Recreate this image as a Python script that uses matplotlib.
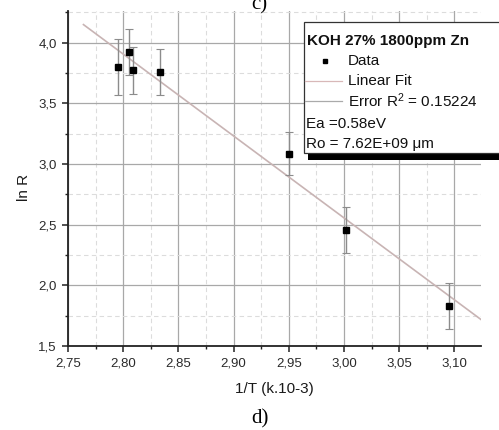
import matplotlib
matplotlib.use("Agg")
import matplotlib.pyplot as plt
import numpy as np
from matplotlib.ticker import MultipleLocator, FuncFormatter
from matplotlib.patches import Rectangle
from matplotlib.lines import Line2D

# Data
inv_T = [2.795, 2.805, 2.809, 2.833, 2.950, 3.002, 3.095]
ln_R = [3.80, 3.92, 3.77, 3.76, 3.085, 2.455, 1.827]
ln_R_err = [0.23, 0.19, 0.19, 0.19, 0.18, 0.19, 0.19]

fit_slope = -6.75
fit_intercept = 22.805
fit_x_range = [2.764, 3.124]

legend_title = "KOH 27% 1800ppm Zn"
legend_labels = ["Data", "Linear Fit", "Error R$^2$ = 0.15224"]
info_lines = ["Ea =0.58eV", "Ro = 7.62E+09 \u03bcm"]

plt.rcParams['font.family'] = ['Liberation Sans', 'DejaVu Sans']
plt.rcParams['mathtext.fontset'] = 'custom'
plt.rcParams['mathtext.rm'] = 'Liberation Sans'
plt.rcParams['mathtext.it'] = 'Liberation Sans'
plt.rcParams['mathtext.default'] = 'regular'

W, H = 499, 430
fig = plt.figure(figsize=(W / 100, H / 100), dpi=100)
ax = fig.add_axes([68 / W, 1 - 346 / H, (481 - 68) / W, (346 - 11) / H])

ax.set_xlim(2.75, 3.124)
ax.set_ylim(1.5, 4.26)

ax.xaxis.set_major_locator(MultipleLocator(0.05))
ax.xaxis.set_minor_locator(MultipleLocator(0.025))
ax.yaxis.set_major_locator(MultipleLocator(0.5))
ax.yaxis.set_minor_locator(MultipleLocator(0.25))
ax.xaxis.set_major_formatter(FuncFormatter(lambda v, p: f"{v:.2f}".replace('.', ',')))
ax.yaxis.set_major_formatter(FuncFormatter(lambda v, p: f"{v:.1f}".replace('.', ',')))

ax.grid(which='major', color='#a8a8a8', linewidth=0.9, linestyle='-')
ax.grid(which='minor', color='#dcdcdc', linewidth=0.8, linestyle=(0, (4, 3)))
ax.set_axisbelow(True)

for s in ['top', 'right']:
    ax.spines[s].set_visible(False)
for s in ['left', 'bottom']:
    ax.spines[s].set_linewidth(1.3)
    ax.spines[s].set_color('#222222')

ax.tick_params(which='major', direction='out', length=4, width=1.1, labelsize=9.5,
               colors='#222222', labelcolor='#2a2a2a', pad=4)
ax.tick_params(which='minor', direction='out', length=2.5, width=1.0, colors='#222222')

# Fit line
fx = np.array(fit_x_range)
ax.plot(fx, fit_slope * fx + fit_intercept, color='#c8b4b4', linewidth=1.2, zorder=2)

# Data with error bars
ax.errorbar(inv_T, ln_R, yerr=ln_R_err, fmt='s', color='black', markersize=4.5,
            ecolor='#8c8c8c', elinewidth=1.0, capsize=3, capthick=0.8, zorder=3)

ax.set_xlabel("1/T (k.10-3)", fontsize=11, color='#1a1a1a')
ax.set_ylabel("ln R", fontsize=11, color='#1a1a1a')
ax.xaxis.set_label_coords(0.5, -0.108)
ax.yaxis.set_label_coords(-0.089, 0.472)

# Legend box (extends beyond right edge)
def fx_(px):
    return px / W

def fy_(py):
    return 1 - py / H

shadow = Rectangle((fx_(308), fy_(160)), fx_(W + 20) - fx_(308), 7 / H,
                   transform=fig.transFigure, facecolor='black', edgecolor='none', zorder=9)
fig.add_artist(shadow)
box = Rectangle((fx_(304), fy_(153)), fx_(W + 20) - fx_(304), (153 - 22) / H,
                transform=fig.transFigure, facecolor='white', edgecolor='#333333',
                linewidth=0.9, zorder=10)
fig.add_artist(box)

fs = 11
fig.text(fx_(307), fy_(41), legend_title, fontsize=fs, fontweight='bold',
         va='center', ha='left', zorder=11, color='#111111')
fig.add_artist(Line2D([fx_(325)], [fy_(61)], marker='s', markersize=3.5, color='black',
                      linestyle='none', transform=fig.transFigure, zorder=11))
fig.text(fx_(348), fy_(61), legend_labels[0], fontsize=fs, va='center', ha='left', zorder=11, color='#111111')
fig.add_artist(Line2D([fx_(305), fx_(342)], [fy_(81), fy_(81)], color='#d8b8b8', linewidth=0.9,
                      transform=fig.transFigure, zorder=11))
fig.text(fx_(348), fy_(81), legend_labels[1], fontsize=fs, va='center', ha='left', zorder=11, color='#111111')
fig.add_artist(Line2D([fx_(305), fx_(342)], [fy_(101.5), fy_(101.5)], color='#aaaaaa', linewidth=0.9,
                      transform=fig.transFigure, zorder=11))
fig.text(fx_(348), fy_(107), legend_labels[2], fontsize=fs, va='baseline', ha='left', zorder=11, color='#111111')
fig.text(fx_(306.5), fy_(124), info_lines[0], fontsize=fs, va='center', ha='left', zorder=11, color='#111111')
fig.text(fx_(306.5), fy_(144), info_lines[1], fontsize=fs, va='center', ha='left', zorder=11, color='#111111')

# Panel labels
fig.text(fx_(251), fy_(9), "c)", fontsize=15, family='Liberation Serif', va='baseline', ha='left')
fig.text(fx_(251), fy_(423), "d)", fontsize=15, family='Liberation Serif', va='baseline', ha='left')

fig.savefig("out.png", dpi=100)
